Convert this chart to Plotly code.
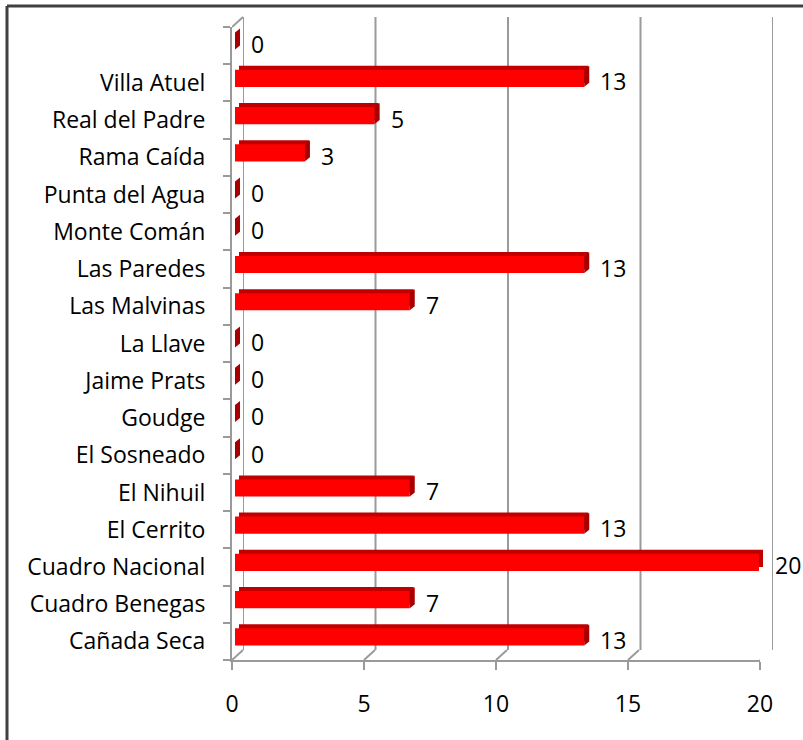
import plotly.graph_objects as go

# ---- data (bottom to top) ----
categories = ["Cañada Seca", "Cuadro Benegas", "Cuadro Nacional", "El Cerrito", "El Nihuil",
              "El Sosneado", "Goudge", "Jaime Prats", "La Llave", "Las Malvinas", "Las Paredes",
              "Monte Comán", "Punta del Agua", "Rama Caída", "Real del Padre", "Villa Atuel", ""]
values = [13.33, 6.67, 20.0, 13.33, 6.67, 0, 0, 0, 0, 6.67, 13.33, 0, 0, 2.67, 5.33, 13.33, 0]
x_ticks = [0, 5, 10, 15, 20]

# ---- pixel geometry ----
W, H = 803, 740
ML, MR, MT, MB = 232, 30, 17, 80
PW, PH = W - ML - MR, H - MT - MB
def px(x): return (x - ML) / PW
def py(y): return (H - MB - y) / PH

FONT = "Open Sans"
FS = 23
GRID = "#9A9A9A"
idx = list(range(len(categories)))
yr = [-0.5, len(categories) - 0.5]

fig = go.Figure()
# back face of bars (shows as top strip)
fig.add_trace(go.Bar(x=values, y=idx, orientation="h", width=0.46,
                     marker=dict(color="#C00000", line=dict(width=0)),
                     xaxis="x2", yaxis="y2", hoverinfo="skip", showlegend=False))
# front face of bars
fig.add_trace(go.Bar(x=values, y=idx, orientation="h", width=0.46,
                     marker=dict(color="#FF0000", line=dict(width=0)),
                     xaxis="x3", yaxis="y3", showlegend=False))
# dummy trace for front axes
fig.add_trace(go.Scatter(x=[0], y=[0], mode="markers", marker=dict(opacity=0),
                         xaxis="x4", yaxis="y4", hoverinfo="skip", showlegend=False))
# dummy for back axes
fig.add_trace(go.Scatter(x=[0], y=[0], mode="markers", marker=dict(opacity=0),
                         xaxis="x", yaxis="y", hoverinfo="skip", showlegend=False))

hidden = dict(showgrid=False, zeroline=False, showticklabels=False, ticks="", showline=False)
fig.update_layout(
    width=W, height=H,
    margin=dict(l=ML, r=MR, t=MT, b=MB),
    paper_bgcolor="white", plot_bgcolor="rgba(0,0,0,0)",
    font=dict(family=FONT, size=FS, color="black"),
    barmode="overlay",
    # back wall
    xaxis=dict(domain=[px(243), px(773)], range=[0, 20], anchor="y", **hidden),
    yaxis=dict(domain=[py(650), py(17)], range=yr, anchor="x", **hidden),
    # bar back faces
    xaxis2=dict(domain=[px(239), px(763)], range=[0, 20], anchor="y2", **hidden),
    yaxis2=dict(domain=[py(651.5), py(18.5)], range=yr, anchor="x2", **hidden),
    # bar front faces
    xaxis3=dict(domain=[px(235), px(759)], range=[0, 20], anchor="y3", **hidden),
    yaxis3=dict(domain=[py(655.5), py(22.5)], range=yr, anchor="x3", **hidden),
    # front axes
    xaxis4=dict(domain=[px(232), px(760)], range=[0, 20], anchor="y4",
                showgrid=False, zeroline=False, showline=True, linecolor=GRID, linewidth=2,
                ticks="outside", ticklen=8, tickwidth=2, tickcolor=GRID,
                tickvals=x_ticks, ticktext=[str(v) for v in x_ticks],
                ticklabelstandoff=14, tickfont=dict(size=FS, family=FONT, color="black")),
    yaxis4=dict(domain=[py(660), py(27)], range=yr, anchor="x4",
                showgrid=False, zeroline=False, showline=True, linecolor=GRID, linewidth=2,
                ticks="", tickvals=idx, ticktext=categories,
                minor=dict(tickvals=[i - 0.5 for i in idx] + [len(idx) - 0.5],
                           ticks="outside", ticklen=7, tickwidth=2, tickcolor=GRID),
                ticklabelstandoff=20, tickfont=dict(size=FS, family=FONT, color="black")),
)

shapes = []
# back wall gridlines
for v in x_ticks:
    shapes.append(dict(type="line", xref="x", yref="y domain", x0=v, x1=v, y0=0, y1=1,
                       line=dict(color=GRID, width=2), layer="below"))
    # floor slants from front tick to back gridline
    shapes.append(dict(type="line", xref="x4", yref="y4 domain", xsizemode="pixel", ysizemode="pixel",
                       xanchor=v, yanchor=0, x0=0, x1=11, y0=0, y1=10,
                       line=dict(color=GRID, width=2), layer="below"))
# left wall top slant
shapes.append(dict(type="line", xref="x4", yref="y4 domain", xsizemode="pixel", ysizemode="pixel",
                   xanchor=0, yanchor=1, x0=0, x1=11, y0=0, y1=10,
                   line=dict(color=GRID, width=2), layer="below"))
# bar end caps
for v, i in zip(values, idx):
    shapes.append(dict(type="path", xref="x3", yref="y3", xsizemode="pixel", ysizemode="pixel",
                       xanchor=v, yanchor=i,
                       path="M 0 -8.5 L 0 8.5 L 5 12.5 L 5 -4.5 Z",
                       fillcolor="#A80000", line=dict(width=0), layer="above"))
# outer border (top and left)
shapes.append(dict(type="line", xref="paper", yref="paper", x0=px(7), x1=px(810), y0=py(6), y1=py(6),
                   line=dict(color="#404040", width=3)))
shapes.append(dict(type="line", xref="paper", yref="paper", x0=px(7), x1=px(7), y0=py(6), y1=py(750),
                   line=dict(color="#404040", width=3)))
fig.update_layout(shapes=shapes)

annotations = []
for v, i in zip(values, idx):
    annotations.append(dict(x=v, y=i, xref="x3", yref="y3", text=f"{v:.0f}", showarrow=False,
                            xanchor="left", yanchor="middle", xshift=14, yshift=-3,
                            font=dict(family=FONT, size=FS, color="black")))
fig.update_layout(annotations=annotations)

fig.write_html("out.html", config={"displayModeBar": False},
               post_script="document.body.style.margin='0';document.body.style.overflow='hidden';")
